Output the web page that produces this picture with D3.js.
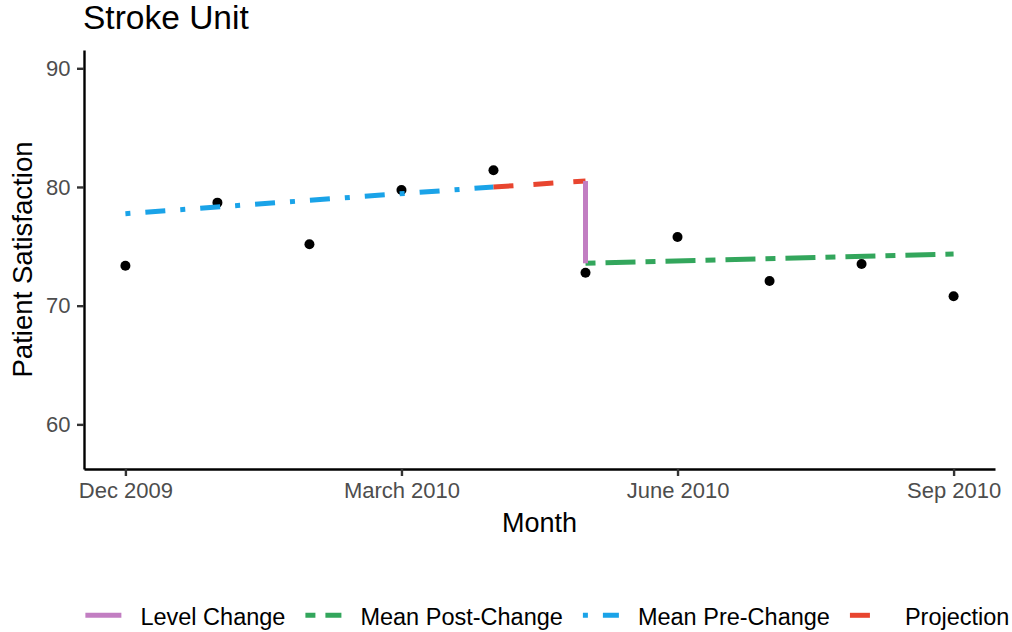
<!DOCTYPE html>
<html><head><meta charset="utf-8">
<script src="https://cdn.jsdelivr.net/npm/d3@7"></script>
<style>body{margin:0;background:#fff}svg{display:block}text{font-family:"Liberation Sans",Arial,Helvetica,sans-serif}</style>
</head><body><svg id="c" width="1012" height="632"></svg>
<script>
const months = ["Dec 2009","Jan 2010","Feb 2010","Mar 2010","Apr 2010","May 2010","Jun 2010","Jul 2010","Aug 2010","Sep 2010"];
const satisfaction = [73.37,78.68,75.17,79.75,81.41,72.78,75.79,72.08,73.51,70.79];
const tickMonths = [0,3,6,9];
const tickLabels = ["Dec 2009","March 2010","June 2010","Sep 2010"];
const yTicks = [60,70,80,90];
const preChangeX = [0,4], preChangeY = [77.75,80.0];
const projectionX = [4,5], projectionY = [80.0,80.5];
const levelChangeX = [5,5], levelChangeY = [80.5,73.57];
const postChangeX = [5,9], postChangeY = [73.57,74.35];
const seriesNames = ["Level Change","Mean Post-Change","Mean Pre-Change","Projection"];
const seriesColors = ["#C27EC2","#33A65C","#1AA3E8","#E8452F"];

const dashes = {"Level Change":null,"Mean Post-Change":"10,10,30,10","Mean Pre-Change":"5,15,20,15","Projection":"20,20"};
const LW = 5;

const svg = d3.select("#c");
const L = 84, R = 995, T = 50, B = 469;
const x = d3.scaleLinear().domain([-0.45, 9.45]).range([L, R]);
const y = d3.scaleLinear().domain([56.24, 91.54]).range([B, T]);

// title
svg.append("text").attr("x", 83).attr("y", 28.5).attr("font-size", 33.5).attr("fill", "#000").text("Stroke Unit");

// axes
const gx = svg.append("g").attr("transform", `translate(0,${B})`)
  .call(d3.axisBottom(x).tickValues(tickMonths).tickFormat((d,i) => tickLabels[i]).tickSize(7).tickSizeOuter(0).tickPadding(6.7));
const gy = svg.append("g").attr("transform", `translate(${L},0)`)
  .call(d3.axisLeft(y).tickValues(yTicks).tickSize(7).tickSizeOuter(0).tickPadding(6.5));
[gx, gy].forEach(g => {
  g.select(".domain").attr("stroke", "#000").attr("stroke-width", 2.4);
  g.selectAll(".tick line").attr("stroke", "#333").attr("stroke-width", 2.4);
  g.selectAll(".tick text").attr("fill", "#4D4D4D").attr("font-size", 22).attr("font-family", '"Liberation Sans",Arial,sans-serif');
});

// axis titles
svg.append("text").attr("x", (L + R) / 2).attr("y", 531.7).attr("text-anchor", "middle").attr("font-size", 27).text("Month");
svg.append("text").attr("transform", `translate(32,${(T + B) / 2}) rotate(-90)`).attr("text-anchor", "middle").attr("font-size", 27.6).text("Patient Satisfaction");

// points
svg.append("g").selectAll("circle").data(satisfaction).join("circle")
  .attr("cx", (d, i) => x(i)).attr("cy", d => y(d)).attr("r", 5).attr("fill", "#000");

// lines
const line = d3.line().x(d => x(d[0])).y(d => y(d[1]));
const zip = (a, b) => a.map((v, i) => [v, b[i]]);
const series = [
  ["Mean Pre-Change", zip(preChangeX, preChangeY)],
  ["Projection", zip(projectionX, projectionY)],
  ["Mean Post-Change", zip(postChangeX, postChangeY)],
  ["Level Change", zip(levelChangeX, levelChangeY)]
];
series.forEach(([name, pts]) => {
  svg.append("path").attr("d", line(pts)).attr("fill", "none")
    .attr("stroke", seriesColors[seriesNames.indexOf(name)]).attr("stroke-width", LW)
    .attr("stroke-linecap", "butt").attr("stroke-dasharray", dashes[name]);
});

// legend
const lg = svg.append("g");
const items = seriesNames.map((name, i) => {
  const g = lg.append("g");
  g.append("line").attr("x1", 0).attr("x2", 36).attr("y1", 615.3).attr("y2", 615.3)
    .attr("stroke", seriesColors[i]).attr("stroke-width", LW).attr("stroke-dasharray", dashes[name]);
  const t = g.append("text").attr("x", 55).attr("y", 624.5).attr("font-size", 23.5).attr("fill", "#000").text(name);
  return {g, w: 55 + t.node().getComputedTextLength()};
});
const total = d3.sum(items, d => d.w) + 20 * (items.length - 1);
let cx = 547.4 - total / 2;
items.forEach(it => { it.g.attr("transform", `translate(${cx},0)`); cx += it.w + 20; });
</script></body></html>
